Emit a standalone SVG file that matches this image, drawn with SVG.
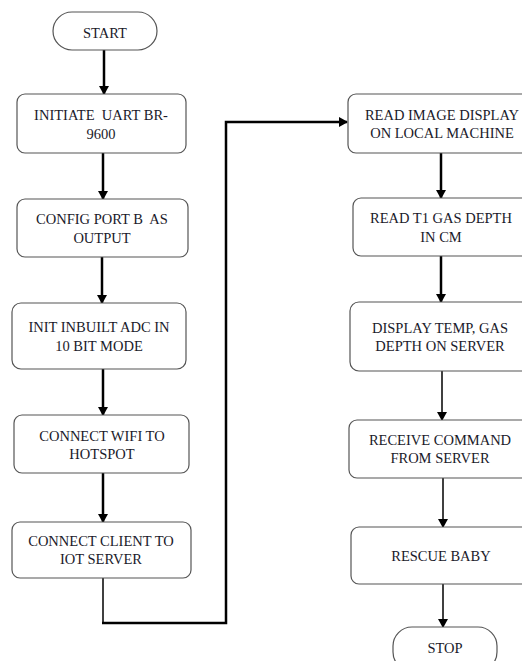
<svg xmlns="http://www.w3.org/2000/svg" width="522" height="661" viewBox="0 0 522 661">
<defs>
<style>
.box{fill:#fff;stroke:#555;stroke-width:1.2}
.t{font-family:'Liberation Serif','Times New Roman','DejaVu Serif',serif;font-size:14.5px;fill:#1a1a2a;text-anchor:middle}
.c{fill:none;stroke:#000;stroke-width:2.5}
.thin{fill:none;stroke:#000;stroke-width:1.5}
</style>
<marker id="ah" markerWidth="10" markerHeight="10" refX="8" refY="5" orient="auto" markerUnits="userSpaceOnUse">
<path d="M0,0 L9,5 L0,10 Z" fill="#000"/>
</marker>
</defs>
<rect width="522" height="661" fill="#fff"/>
<g id="connectors">
<path class="c" d="M104,50 V94" marker-end="url(#ah)"/>
<path class="c" d="M103,153 V199" marker-end="url(#ah)"/>
<path class="c" d="M102,257 V303" marker-end="url(#ah)"/>
<path class="c" d="M103,369 V415" marker-end="url(#ah)"/>
<path class="c" d="M103,473 V522" marker-end="url(#ah)"/>
<path class="thin" d="M103,578 V623"/>
<path class="c" d="M102,623 H226 V122 H347" marker-end="url(#ah)"/>
<path class="c" d="M441,153 V198" marker-end="url(#ah)"/>
<path class="c" d="M441,256 V302" marker-end="url(#ah)"/>
<path class="thin" d="M442,371 V420" marker-end="url(#ah)"/>
<path class="thin" d="M443,478 V527" marker-end="url(#ah)"/>
<path class="thin" d="M443,584 V627" marker-end="url(#ah)"/>
</g>
<g id="start">
<rect class="box" x="53" y="12" width="104" height="38" rx="19"/>
<text class="t" x="105" y="38">START</text>
</g>
<g id="initiate">
<rect class="box" x="17" y="94" width="169" height="59" rx="8"/>
<text class="t" x="101" y="120" xml:space="preserve">INITIATE  UART BR-</text>
<text class="t" x="101" y="139">9600</text>
</g>
<g id="config">
<rect class="box" x="17" y="199" width="171" height="58" rx="8"/>
<text class="t" x="102" y="224" xml:space="preserve">CONFIG PORT B  AS</text>
<text class="t" x="102" y="243">OUTPUT</text>
</g>
<g id="adc">
<rect class="box" x="12" y="303" width="174" height="66" rx="9"/>
<text class="t" x="99" y="332">INIT INBUILT ADC IN</text>
<text class="t" x="99" y="351">10 BIT MODE</text>
</g>
<g id="wifi">
<rect class="box" x="14" y="415" width="175" height="58" rx="8"/>
<text class="t" x="102" y="441">CONNECT WIFI TO</text>
<text class="t" x="102" y="459">HOTSPOT</text>
</g>
<g id="client">
<rect class="box" x="12" y="522" width="179" height="56" rx="8"/>
<text class="t" x="101" y="546">CONNECT CLIENT TO</text>
<text class="t" x="101" y="564">IOT SERVER</text>
</g>
<g id="readimage">
<rect class="box" x="348" y="94" width="190" height="59" rx="8"/>
<text class="t" x="442" y="120">READ IMAGE DISPLAY</text>
<text class="t" x="442" y="138">ON LOCAL MACHINE</text>
</g>
<g id="readgas">
<rect class="box" x="353" y="198" width="185" height="58" rx="8"/>
<text class="t" x="441" y="223">READ T1 GAS DEPTH</text>
<text class="t" x="441" y="242">IN CM</text>
</g>
<g id="display">
<rect class="box" x="350" y="302" width="188" height="69" rx="9"/>
<text class="t" x="440" y="333">DISPLAY TEMP, GAS</text>
<text class="t" x="440" y="351">DEPTH ON SERVER</text>
</g>
<g id="receive">
<rect class="box" x="349" y="420" width="189" height="58" rx="8"/>
<text class="t" x="440" y="445">RECEIVE COMMAND</text>
<text class="t" x="440" y="463">FROM SERVER</text>
</g>
<g id="rescue">
<rect class="box" x="351" y="527" width="187" height="57" rx="8"/>
<text class="t" x="441" y="561">RESCUE BABY</text>
</g>
<g id="stop">
<rect class="box" x="393" y="627" width="104" height="44" rx="19"/>
<text class="t" x="445" y="653">STOP</text>
</g>
</svg>
